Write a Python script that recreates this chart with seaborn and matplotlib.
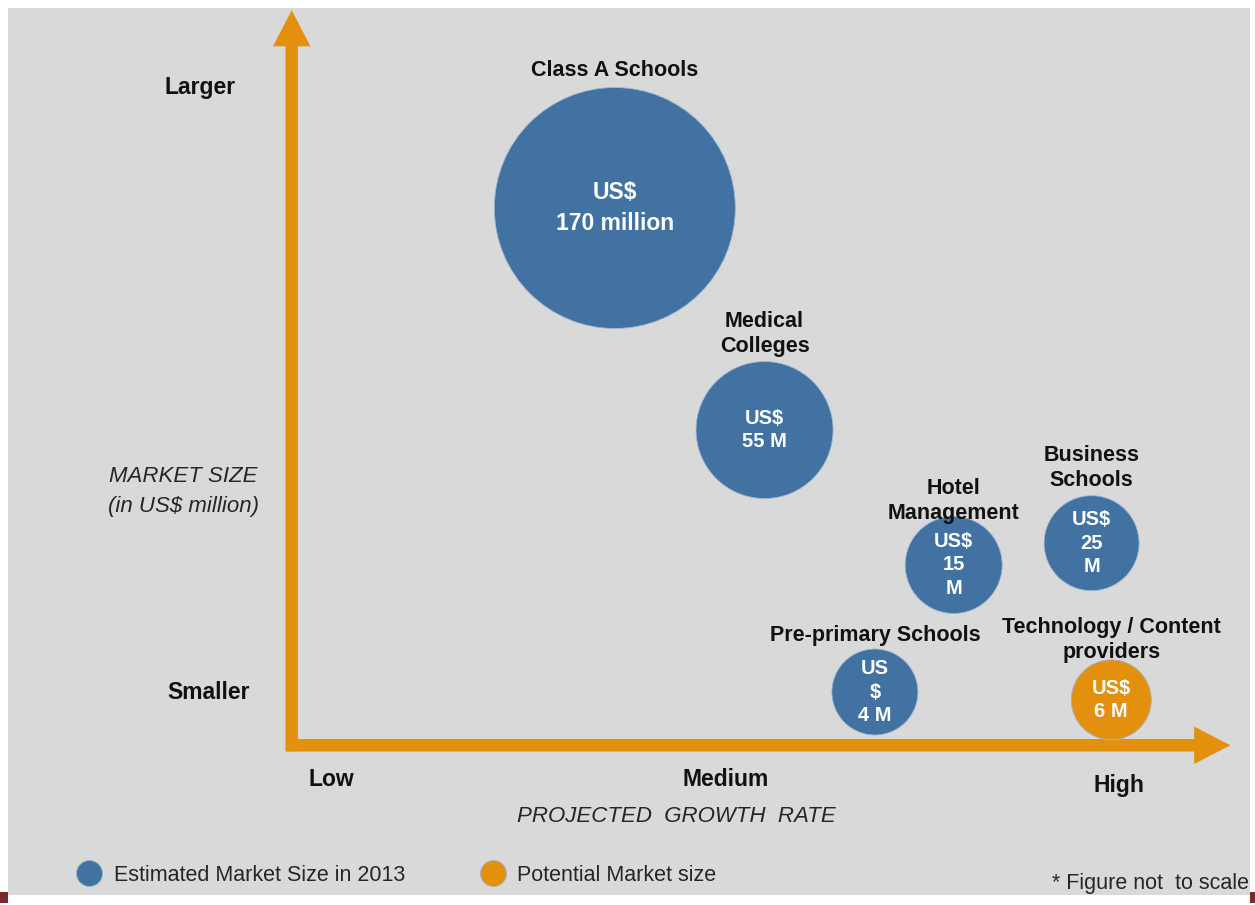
import pandas as pd
import matplotlib.pyplot as plt
import seaborn as sns
from matplotlib.lines import Line2D
from matplotlib.patches import Rectangle, ArrowStyle

# ---------------------------------------------
# data (figure not to scale)
# ---------------------------------------------
segments = ["Class A Schools", "Medical\nColleges", "Hotel\nManagement",
            "Business\nSchools", "Pre-primary Schools", "Technology / Content\nproviders"]
value_labels = ["US$\n170 million", "US$\n55 M", "US$\n15\nM", "US$\n25\nM", "US\n$\n4 M", "US$\n6 M"]
market_size_musd = [170, 55, 15, 25, 4, 6]
growth_rate = [0.72, 1.10, 1.58, 1.93, 1.38, 1.98]       # 0 = Low, 1 = Medium, 2 = High
market_position = [0.80, 0.433, 0.21, 0.246, 0.0, -0.013]  # 0 = Smaller, 1 = Larger
market_kind = ["Estimated Market Size in 2013"] * 5 + ["Potential Market size"]

growth_ticks = ["Low", "Medium", "High"]
size_ticks = ["Smaller", "Larger"]

df = pd.DataFrame({"segment": segments, "value": value_labels, "musd": market_size_musd,
                   "growth": growth_rate, "position": market_position, "kind": market_kind})

# ---------------------------------------------
# styles
# ---------------------------------------------
BLUE = "#4272a1"
ORANGE = "#e3900f"
BG = "#d9d9d9"
bubble_px = [241, 137, 97, 95, 86, 80]          # drawn diameters (not to scale)
label_gap_px = [7, 5, -8, 5, 3, -3]
value_font = [16.5, 14.5, 14.5, 14.5, 14.5, 14.5]
value_spacing = [1.4, 1.3, 1.3, 1.3, 1.3, 1.3]
PX = 0.72  # points per pixel at dpi 100

sns.set_style("white")
plt.rcParams["font.family"] = ["Liberation Sans", "DejaVu Sans"]

fig = plt.figure(figsize=(12.55, 9.05), dpi=100, facecolor="white")
ax = fig.add_axes([8 / 1255, 10 / 905, 1242 / 1255, 887 / 905])
ax.set_facecolor(BG)
for s in ax.spines.values():
    s.set_visible(False)
ax.set_xticks([])
ax.set_yticks([])
ax.set_xlim(-0.82, 2.332)
ax.set_ylim(-0.3355, 1.1306)

# axes arrows
ox, oy = -0.10, -0.088
arrow = ArrowStyle("simple", head_length=26, head_width=27, tail_width=9)
ax.annotate("", xy=(ox, 1.127), xytext=(ox, -0.098),
            arrowprops=dict(arrowstyle=arrow, color=ORANGE, mutation_scale=1, shrinkA=0, shrinkB=0, lw=0))
ax.annotate("", xy=(2.282, oy), xytext=(-0.114, oy),
            arrowprops=dict(arrowstyle=arrow, color=ORANGE, mutation_scale=1, shrinkA=0, shrinkB=0, lw=0))

# bubbles
sns.scatterplot(data=df, x="growth", y="position", hue="kind",
                palette={market_kind[0]: BLUE, market_kind[-1]: ORANGE},
                size="segment", sizes={seg: (d * PX) ** 2 for seg, d in zip(segments, bubble_px)},
                edgecolor="#9db7d2", linewidth=0.6, alpha=1, legend=False, ax=ax, zorder=3)

for i, row in df.iterrows():
    ax.annotate(row["value"], (row["growth"], row["position"]), ha="center", va="center",
                color="white", fontweight="bold", fontsize=value_font[i],
                linespacing=value_spacing[i], zorder=4)
    off = (bubble_px[i] / 2 + label_gap_px[i]) * PX
    ax.annotate(row["segment"], (row["growth"], row["position"]), xytext=(0, off),
                textcoords="offset points", ha="center", va="bottom", color="#111111",
                fontweight="bold", fontsize=15.5, linespacing=1.25, zorder=5)

# level labels
for i, t in enumerate(growth_ticks):
    ax.text(i, -0.145 - (0.01 if t == "High" else 0), t, ha="center", va="center",
            fontweight="bold", fontsize=16.5, color="#111111")
ax.text(-0.310, 0, size_ticks[0], ha="center", va="center", fontweight="bold", fontsize=16.5, color="#111111")
ax.text(-0.332, 1.0, size_ticks[1], ha="center", va="center", fontweight="bold", fontsize=16.5, color="#111111")

ax.text(-0.375, 0.332, "MARKET SIZE\n(in US$ million)", ha="center", va="center", style="italic",
        fontsize=16, color="#262626", linespacing=1.55)
ax.text(0.876, -0.205, "PROJECTED  GROWTH  RATE", ha="center", va="center", style="italic",
        fontsize=16, color="#262626")

# legend
handles = [Line2D([], [], marker="o", ls="", markersize=26 * PX, color=c, markeredgecolor="#9db7d2",
                  markeredgewidth=0.6) for c in (BLUE, ORANGE)]
ax.legend(handles, [market_kind[0], market_kind[-1]], ncol=2, loc="center left",
          bbox_to_anchor=(77 / 1255, 30 / 905), bbox_transform=fig.transFigure,
          frameon=False, fontsize=15.5, handlelength=1.15, handletextpad=0.55,
          columnspacing=3.5, borderpad=0, borderaxespad=0, labelcolor="#262626")

fig.text(1249 / 1255, 22 / 905, "* Figure not  to scale", ha="right", va="center",
         fontsize=15.5, color="#262626")

# small corner marks
for x0 in (0, 1250):
    fig.patches.append(Rectangle((x0 / 1255, 2 / 905), 8 / 1255, 11 / 905, transform=fig.transFigure,
                                 facecolor="#7a2a2a", edgecolor="none", figure=fig))

fig.savefig("out.png", dpi=100, facecolor="white")
